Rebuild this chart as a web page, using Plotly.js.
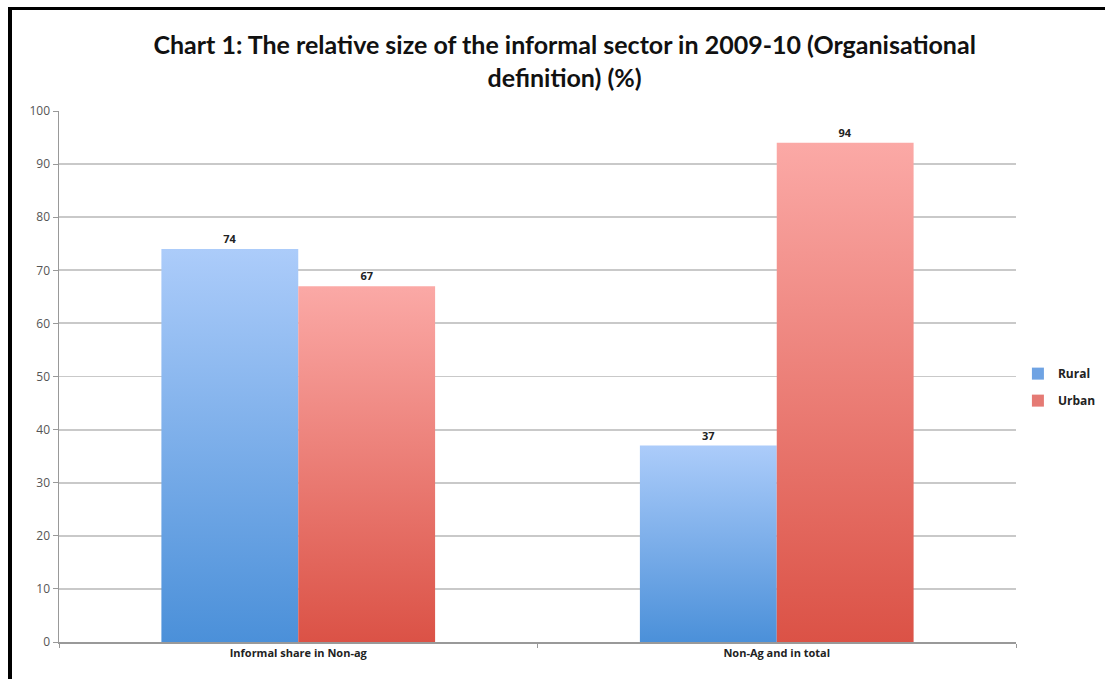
<!DOCTYPE html>
<html>
<head>
<meta charset="utf-8">
<script src="https://cdn.plot.ly/plotly-3.0.1.min.js"></script>
<style>
html,body{margin:0;padding:0;background:#fff;}
#wrap{position:relative;width:1105px;height:679px;overflow:hidden;}
#chart{position:absolute;left:0;top:0;width:1105px;height:679px;}
#fl{position:absolute;left:8px;top:7px;width:4px;height:700px;background:#000;}
#ft{position:absolute;left:8px;top:7px;width:1100px;height:3px;background:#000;}
</style>
</head>
<body>
<div id="wrap"><div id="chart"></div><div id="fl"></div><div id="ft"></div></div>
<script>
const categories = ["Informal share in Non-ag", "Non-Ag and in total"];
const rural = [74, 37];
const urban = [67, 94];
const yTicks = [0,10,20,30,40,50,60,70,80,90,100];

const font = "Lato, 'Open Sans', sans-serif";
const tfont = "'Open Sans', 'DejaVu Sans', sans-serif";
const traces = [
  {type:'bar', name:'Rural', x:categories, y:rural, legendgroup:'r',
   marker:{color:'#6fa3e3'}, text:rural.map(String), textposition:'outside',
   textfont:{family:tfont, size:11, color:'#222', weight:'bold'}, cliponaxis:false},
  {type:'bar', name:'Urban', x:categories, y:urban, legendgroup:'u',
   marker:{color:'#e57a74'}, text:urban.map(String), textposition:'outside',
   textfont:{family:tfont, size:11, color:'#222', weight:'bold'}, cliponaxis:false}
];
const layout = {
  width:1105, height:679,
  margin:{l:59, r:89, t:111, b:37, autoexpand:false},
  paper_bgcolor:'#fff', plot_bgcolor:'#fff',
  barmode:'group', bargap:0.428, bargroupgap:0,
  title:{text:'Chart 1: The relative size of the informal sector in 2009-10 (Organisational<br>definition) (%)',
    font:{family:font, size:25, color:'#111', weight:'bold'}, x:0.511, xanchor:'center', y:0.920, yanchor:'middle'},
  xaxis:{showgrid:false, showline:true, linecolor:'#999', linewidth:1.5, ticks:'outside', tickson:'boundaries',
    ticklen:4, tickcolor:'#999', tickfont:{family:tfont, size:11, color:'#222', weight:'bold'}},
  yaxis:{range:[0,100], tickvals:yTicks, showgrid:true, gridcolor:'#c9c9c9', gridwidth:1.8,
    showline:true, linecolor:'#999', linewidth:1.5, ticks:'outside', ticklen:5, tickcolor:'#999',
    tickfont:{family:tfont, size:12, color:'#555'}, zeroline:false, fixedrange:true},
  legend:{x:1.002, xanchor:'left', y:0.48, yanchor:'middle', font:{family:tfont, size:12, color:'#222', weight:'bold'},
    itemwidth:30, tracegroupgap:8, traceorder:'grouped', bgcolor:'rgba(0,0,0,0)'},
  showlegend:true
};
Plotly.newPlot('chart', traces, layout, {displayModeBar:false, staticPlot:true}).then(function(gd){
  const svg = gd.querySelector('svg.main-svg');
  const ns = 'http://www.w3.org/2000/svg';
  let defs = svg.querySelector('defs');
  function grad(id, top, bot){
    const g = document.createElementNS(ns,'linearGradient');
    g.setAttribute('id', id); g.setAttribute('x1','0'); g.setAttribute('y1','0'); g.setAttribute('x2','0'); g.setAttribute('y2','1');
    [[0,top],[1,bot]].forEach(function(s){const st=document.createElementNS(ns,'stop');st.setAttribute('offset',s[0]);st.setAttribute('stop-color',s[1]);g.appendChild(st);});
    defs.appendChild(g);
  }
  grad('gBlue','#acccfa','#4b90d9');
  grad('gRed','#fba9a6','#db5246');
  const groups = gd.querySelectorAll('.barlayer .trace');
  groups.forEach(function(t,i){
    t.querySelectorAll('path').forEach(function(p){ p.style.fill = 'url(#' + (i===0?'gBlue':'gRed') + ')'; });
  });
});
</script>
</body>
</html>
